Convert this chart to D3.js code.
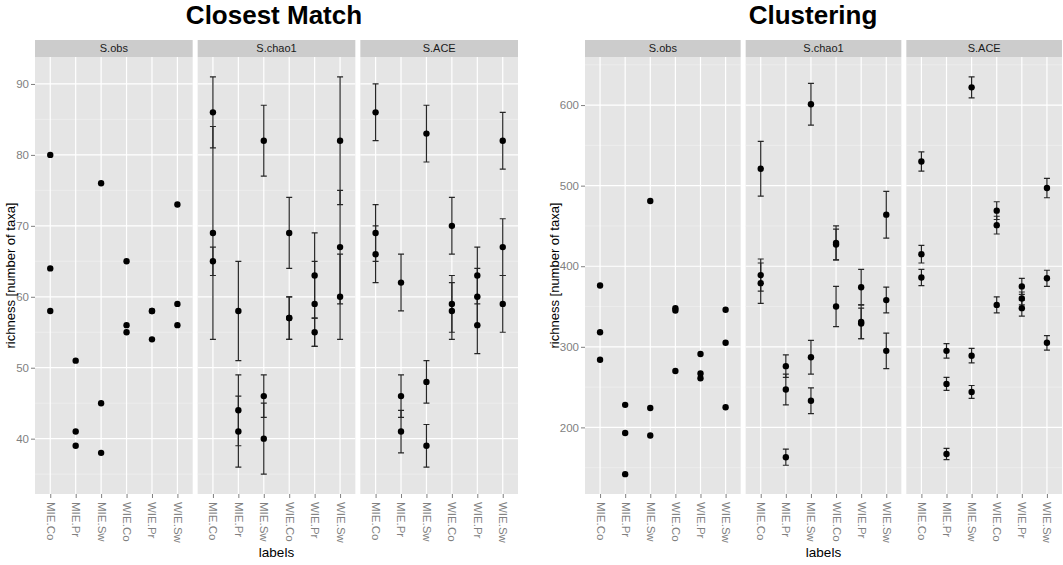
<!DOCTYPE html>
<html>
<head>
<meta charset="utf-8">
<script src="https://cdn.jsdelivr.net/npm/d3@7"></script>
<style>
  body { margin: 0; background: #fff; }
  svg { font-family: "Liberation Sans", Arial, sans-serif; }
</style>
</head>
<body>
<svg id="chart" width="1063" height="565"></svg>
<script>
// categories and facets
const labels = ["MIE.Co", "MIE.Pr", "MIE.Sw", "WIE.Co", "WIE.Pr", "WIE.Sw"];
const measures = ["S.obs", "S.chao1", "S.ACE"];

// Closest Match: three values per label, plus standard errors
const matchObs = [[80, 64, 58], [51, 41, 39], [76, 45, 38], [65, 56, 55], [58, 58, 54], [73, 59, 56]];
const matchChao1 = [[86, 69, 65], [58, 44, 41], [82, 46, 40], [69, 57, 57], [63, 59, 55], [82, 67, 60]];
const matchChao1Se = [[5, 15, 2], [7, 5, 5], [5, 3, 5], [5, 3, 3], [6, 6, 2], [9, 8, 6]];
const matchAce = [[86, 69, 66], [62, 46, 41], [83, 48, 39], [70, 59, 58], [63, 60, 56], [82, 67, 59]];
const matchAceSe = [[4, 4, 4], [4, 3, 3], [4, 3, 3], [4, 4, 4], [4, 4, 4], [4, 4, 4]];

// Clustering
const clustObs = [[376, 318, 284], [228, 193, 142], [481, 224, 190], [348, 345, 270], [291, 267, 261], [346, 305, 225]];
const clustChao1 = [[521, 389, 379], [276, 247, 163], [601, 287, 233], [429, 427, 350], [374, 331, 329], [464, 358, 295]];
const clustChao1Se = [[34, 20, 25], [14, 19, 10], [26, 21, 16], [21, 19, 25], [22, 21, 19], [29, 16, 22]];
const clustAce = [[530, 415, 386], [295, 254, 167], [622, 289, 244], [469, 451, 352], [375, 360, 348], [497, 385, 305]];
const clustAceSe = [[12, 11, 10], [9, 8, 7], [13, 9, 8], [11, 11, 10], [10, 8, 10], [12, 10, 9]];

// flatten nested arrays into rows {label, value, se}
function rows(values, ses) {
    const out = [];
    values.forEach((vals, i) => vals.forEach((v, j) => {
        out.push({ label: labels[i], value: v, se: ses ? ses[i][j] : null });
    }));
    return out;
}

const svg = d3.select("#chart");

drawChart(svg, {
    title: "Closest Match", titleX: 274,
    left: 35, right: 518, ylabX: 15,
    facets: [rows(matchObs), rows(matchChao1, matchChao1Se), rows(matchAce, matchAceSe)]
});
drawChart(svg, {
    title: "Clustering", titleX: 813,
    left: 585, right: 1062, ylabX: 559,
    facets: [rows(clustObs), rows(clustChao1, clustChao1Se), rows(clustAce, clustAceSe)]
});

function drawChart(svg, opt) {
    const top = 57, bottom = 494, stripH = 17, gap = 5;
    const g = svg.append("g");

    // y range from all values incl. error bars, ggplot-style 5% expansion
    const all = opt.facets.flat();
    const lo = d3.min(all, d => d.se == null ? d.value : d.value - d.se);
    const hi = d3.max(all, d => d.se == null ? d.value : d.value + d.se);
    const pad = (hi - lo) * 0.05;
    const y = d3.scaleLinear().domain([lo - pad, hi + pad]).range([bottom, top]);
    const major = y.ticks(6);
    const step = major[1] - major[0];
    const minor = d3.range(major[0] - step / 2, hi + pad, step).filter(v => v > lo - pad);

    const panelW = (opt.right - opt.left - gap * 2) / 3;

    g.append("text")
        .attr("x", opt.titleX).attr("y", 24)
        .attr("text-anchor", "middle")
        .attr("font-size", 26)
        .attr("font-weight", "bold")
        .attr("fill", "#000")
        .text(opt.title);

    opt.facets.forEach((data, fi) => {
        const x0 = opt.left + fi * (panelW + gap);
        const x = d3.scalePoint().domain(labels).range([x0, x0 + panelW]).padding(0.6);
        const p = g.append("g");

        // strip
        p.append("rect").attr("x", x0).attr("y", top - stripH)
            .attr("width", panelW).attr("height", stripH).attr("fill", "#cccccc");
        p.append("text").attr("x", x0 + panelW / 2).attr("y", top - 5)
            .attr("text-anchor", "middle").attr("font-size", 11).attr("fill", "#1a1a1a")
            .text(measures[fi]);

        // panel background and grid
        p.append("rect").attr("x", x0).attr("y", top)
            .attr("width", panelW).attr("height", bottom - top).attr("fill", "#e5e5e5");
        p.selectAll(".minor").data(minor).join("line")
            .attr("x1", x0).attr("x2", x0 + panelW)
            .attr("y1", d => y(d)).attr("y2", d => y(d))
            .attr("stroke", "#f2f2f2").attr("stroke-width", 0.6);
        p.selectAll(".major").data(major).join("line")
            .attr("x1", x0).attr("x2", x0 + panelW)
            .attr("y1", d => y(d)).attr("y2", d => y(d))
            .attr("stroke", "#fff").attr("stroke-width", 1.2);
        p.selectAll(".vgrid").data(labels).join("line")
            .attr("x1", d => x(d)).attr("x2", d => x(d))
            .attr("y1", top).attr("y2", bottom)
            .attr("stroke", "#fff").attr("stroke-width", 1.2);

        // x axis
        const xa = p.append("g").attr("transform", `translate(0,${bottom})`)
            .call(d3.axisBottom(x).tickSize(4).tickPadding(0));
        xa.select(".domain").remove();
        xa.selectAll(".tick line").attr("stroke", "#7f7f7f");
        xa.selectAll(".tick text")
            .attr("transform", "translate(0,8) rotate(90)")
            .attr("x", 0).attr("y", 0).attr("dy", "0.35em")
            .attr("text-anchor", "start")
            .attr("font-size", 11.5).attr("fill", "#7f7f7f")
            .attr("font-family", "Liberation Sans, Arial, sans-serif");

        // y axis only on the first facet
        if (fi === 0) {
            const ya = p.append("g").attr("transform", `translate(${x0},0)`)
                .call(d3.axisLeft(y).tickValues(major).tickSize(4).tickPadding(2));
            ya.select(".domain").remove();
            ya.selectAll(".tick line").attr("stroke", "#7f7f7f");
            ya.selectAll(".tick text").attr("font-size", 11.5).attr("fill", "#7f7f7f")
                .attr("font-family", "Liberation Sans, Arial, sans-serif");
        }

        // error bars
        const eb = data.filter(d => d.se != null);
        const capW = 3;
        p.selectAll(".err").data(eb).join("path")
            .attr("d", d => {
                const cx = x(d.label), y1 = y(d.value - d.se), y2 = y(d.value + d.se);
                return `M${cx},${y1}V${y2}M${cx - capW},${y1}H${cx + capW}M${cx - capW},${y2}H${cx + capW}`;
            })
            .attr("fill", "none").attr("stroke", "#262626").attr("stroke-width", 1.2);

        // points
        p.selectAll(".pt").data(data).join("circle")
            .attr("cx", d => x(d.label)).attr("cy", d => y(d.value))
            .attr("r", 3.2).attr("fill", "#000");
    });

    // axis titles
    const mid = (top + bottom) / 2;
    g.append("text")
        .attr("transform", `translate(${opt.ylabX},${mid}) rotate(-90)`)
        .attr("text-anchor", "middle").attr("font-size", 13).attr("fill", "#000")
        .text("richness [number of taxa]");
    g.append("text")
        .attr("x", (opt.left + opt.right) / 2).attr("y", 557)
        .attr("text-anchor", "middle").attr("font-size", 13.5).attr("fill", "#000")
        .text("labels");
}
</script>
</body>
</html>
